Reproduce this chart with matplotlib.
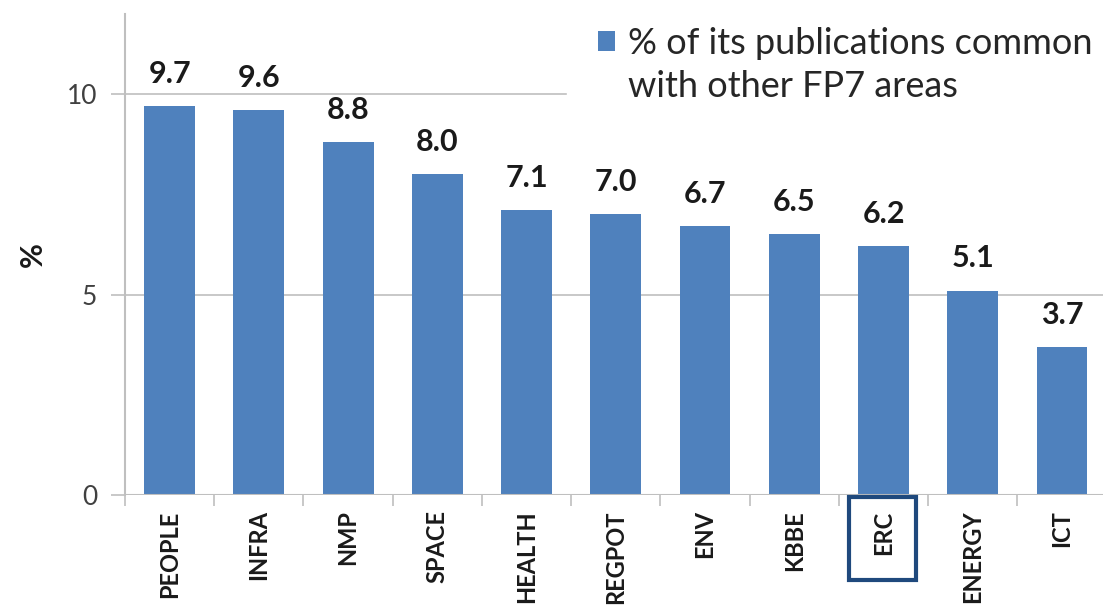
import matplotlib
matplotlib.use("Agg")
import matplotlib.pyplot as plt
from matplotlib.patches import Rectangle, Patch
import matplotlib.transforms as mtransforms

categories = ["PEOPLE", "INFRA", "NMP", "SPACE", "HEALTH", "REGPOT", "ENV", "KBBE", "ERC", "ENERGY", "ICT"]
values = [9.7, 9.6, 8.8, 8.0, 7.1, 7.0, 6.7, 6.5, 6.2, 5.1, 3.7]
series_label_lines = ["% of its publications common", "with other FP7 areas"]
highlight = "ERC"

plt.rcParams['font.family'] = ['Lato', 'DejaVu Sans']

fig = plt.figure(figsize=(11.03, 6.09), dpi=100)
ax = fig.add_axes([0.1133, 0.1872, 0.89, 0.790])

bar_color = "#4F81BD"
x = list(range(len(categories)))
bars = ax.bar(x, values, width=0.57, color=bar_color, zorder=3)

ax.set_xlim(-0.5, len(categories) - 0.5)
ax.set_ylim(0, 12)
ax.set_yticks([0, 5, 10])
ax.set_yticklabels(["0", "5", "10"], fontsize=19, color="#404040")
ax.grid(axis="y", color="#BFBFBF", lw=1.2, zorder=0)

for s in ["top", "right", "bottom"]:
    ax.spines[s].set_visible(False)
ax.spines["left"].set_color("#BFBFBF")
ax.spines["left"].set_linewidth(1.5)
ax.axhline(0, color="#BFBFBF", lw=1.5, zorder=4)

ax.tick_params(axis="y", length=10, width=1.2, color="#BFBFBF", pad=10)

# x tick labels at category centres, tick marks at boundaries
ax.set_xticks(x)
ax.set_xticklabels(categories, rotation=90, fontsize=17, fontweight="bold", color="#1a1a1a", va="top")
ax.tick_params(axis="x", length=0, pad=11)
ax.set_xticks([i - 0.5 for i in range(len(categories) + 1)], minor=True)
ax.tick_params(axis="x", which="minor", length=8, width=1.2, color="#BFBFBF")

ax.set_ylabel("%", fontsize=22, fontweight="bold", labelpad=14, color="#1a1a1a")

for xi, v in zip(x, values):
    ax.annotate(f"{v:.1f}", (xi, v), xytext=(0, 13), textcoords="offset points",
                ha="center", va="bottom", fontsize=22, fontweight="bold", color="#1a1a1a", zorder=5)

# highlight box around ERC label
idx = categories.index(highlight)
trans = mtransforms.blended_transform_factory(ax.transData, fig.transFigure)
rect = Rectangle((idx - 0.39, 0.048), 0.75, 0.136, transform=trans, fill=False,
                 ec="#1F497D", lw=3.0, clip_on=False)
fig.add_artist(rect)

handles = [Patch(facecolor=bar_color, edgecolor="none"), Patch(visible=False)]
leg = ax.legend(handles, series_label_lines, loc="upper left",
                bbox_to_anchor=(567 / 1103, (609 + 4) / 609), bbox_transform=fig.transFigure,
                fontsize=26, frameon=True, handlelength=0.47, handleheight=0.47,
                handletextpad=0.36, borderaxespad=0, borderpad=0.85, labelspacing=0.28,
                fancybox=False, edgecolor="white", framealpha=1.0)
for t in leg.get_texts():
    t.set_color("#262626")
leg.set_zorder(6)

fig.savefig("out.png", dpi=100)
